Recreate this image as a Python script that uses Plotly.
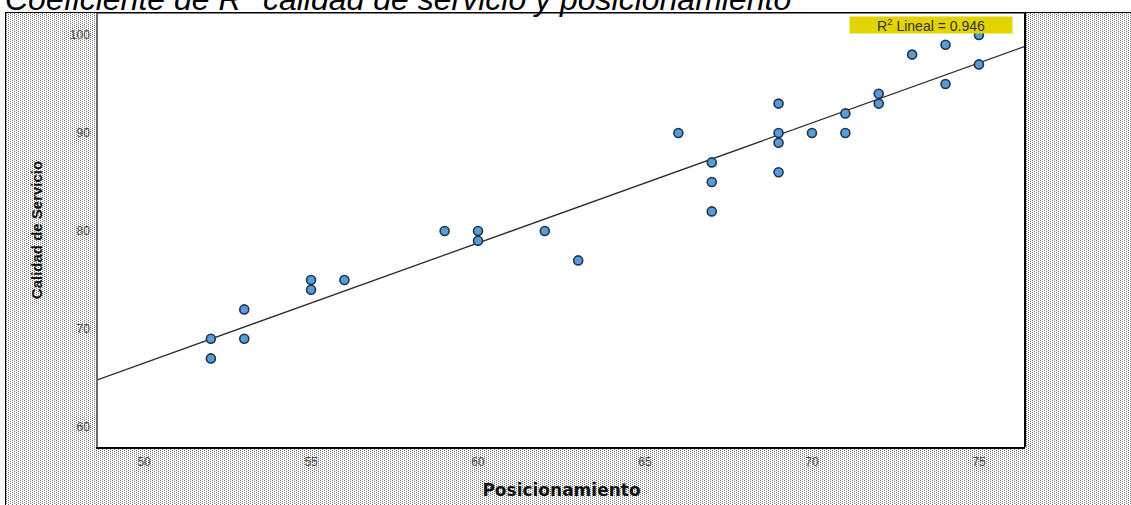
import base64
import numpy as np
import plotly.graph_objects as go

# Posicionamiento (x) and Calidad de Servicio (y) per respondent
posicionamiento = [52, 52, 53, 53, 55, 55, 56, 59, 60, 60, 62, 63, 66, 67, 67, 67,
                   69, 69, 69, 69, 70, 71, 71, 72, 72, 73, 74, 74, 75, 75]
calidad_servicio = [69, 67, 72, 69, 75, 74, 75, 80, 80, 79, 80, 77, 90, 87, 85, 82,
                    93, 90, 89, 86, 90, 92, 90, 94, 93, 98, 99, 95, 100, 97]

x_ticks = [50, 55, 60, 65, 70, 75]
y_ticks = [60, 70, 80, 90, 100]
r2_text = "R<sup>2</sup> Lineal = 0.946"
title_text = "Coeficiente de R<sup>2</sup> calidad de servicio y posicionamiento"

X_RANGE = [48.62, 76.38]
Y_RANGE = [57.96, 102.245]

W, H = 1131, 505
L, R, T, B = 98, 106, 13, 58
PW, PH = W - L - R, H - T - B


def px_x(p):
    return (p - L) / PW


def px_y(p):
    return 1 - (p - T) / PH


# least-squares fit line
slope, intercept = np.polyfit(posicionamiento, calidad_servicio, 1)
fit_x = np.array(X_RANGE)
fit_y = slope * fit_x + intercept

# dotted halftone page background with a white plotting area
svg = f"""<svg xmlns='http://www.w3.org/2000/svg' width='{W}' height='{H}' shape-rendering='crispEdges'>
<defs><pattern id='d' width='4' height='2' patternUnits='userSpaceOnUse'>
<rect x='0' y='0' width='1' height='1' fill='#6e6e6e'/>
<rect x='2' y='1' width='1' height='1' fill='#6e6e6e'/>
</pattern></defs>
<rect x='0' y='0' width='{W}' height='{H}' fill='#ffffff'/>
<rect x='5' y='12' width='{W-5}' height='{H-12}' fill='url(#d)'/>
<rect x='{L}' y='{T}' width='{PW}' height='{PH}' fill='#ffffff'/>
<rect x='5' y='12' width='1' height='{H-12}' fill='#000'/>
<rect x='5' y='12' width='{W-5}' height='1' fill='#000'/>
</svg>"""
bg_uri = "data:image/svg+xml;base64," + base64.b64encode(svg.encode()).decode()

fig = go.Figure()

fig.add_trace(go.Scatter(
    x=fit_x, y=fit_y, mode="lines",
    line=dict(color="#2a2a2a", width=1.3),
    hoverinfo="skip", showlegend=False,
))

fig.add_trace(go.Scatter(
    x=posicionamiento, y=calidad_servicio, mode="markers",
    marker=dict(size=9, color="#5b9bd3", line=dict(color="#1d3550", width=1.6)),
    showlegend=False,
))

fig.update_layout(
    width=W, height=H,
    margin=dict(l=L, r=R, t=T, b=B, pad=0, autoexpand=False),
    paper_bgcolor="#ffffff",
    plot_bgcolor="rgba(0,0,0,0)",
    font=dict(family="Liberation Sans, Arial, sans-serif"),
    images=[dict(
        source=bg_uri, xref="paper", yref="paper",
        x=px_x(0), y=px_y(0), sizex=W / PW, sizey=H / PH,
        xanchor="left", yanchor="top", sizing="stretch", layer="below",
    )],
    xaxis=dict(
        range=X_RANGE, tickvals=x_ticks, showgrid=False, zeroline=False,
        ticks="", ticklabelstandoff=3, automargin=False,
        tickfont=dict(size=12, color="#4a4a4a"),
        showline=True, linecolor="#000000", linewidth=2,
        title=dict(text="<b>Posicionamiento</b>", standoff=16,
                   font=dict(family="DejaVu Sans, sans-serif", size=17, color="#111")),
    ),
    yaxis=dict(
        range=Y_RANGE, tickvals=y_ticks, showgrid=False, zeroline=False,
        ticks="", ticklabelstandoff=4, automargin=False,
        tickfont=dict(size=12, color="#4a4a4a"),
        showline=True, linecolor="#6a6a6a", linewidth=1.5,
        title=dict(text="<b>Calidad de Servicio</b>", standoff=24,
                   font=dict(size=15, color="#111")),
    ),
    shapes=[
        dict(type="line", xref="paper", yref="paper", x0=0, x1=1, y0=1, y1=1,
             line=dict(color="#000000", width=1)),
        dict(type="line", xref="paper", yref="paper", x0=1, x1=1, y0=0, y1=1,
             line=dict(color="#000000", width=2)),
    ],
    annotations=[
        dict(text=r2_text, xref="paper", yref="paper",
             x=px_x(931), y=px_y(25), xanchor="center", yanchor="middle",
             showarrow=False, bgcolor="#e3d400", width=162, height=16, borderpad=0,
             font=dict(size=14, color="#333333")),
        dict(text=title_text, xref="paper", yref="paper",
             x=px_x(3), y=px_y(19), xanchor="left", yanchor="bottom",
             showarrow=False,
             font=dict(size=32, color="#000000", style="italic")),
    ],
)

fig.write_html("out.html", config={"displayModeBar": False})
